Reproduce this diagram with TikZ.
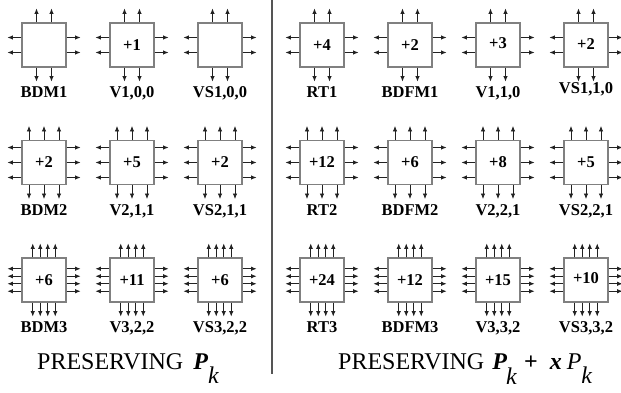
\documentclass[tikz,border=0pt]{standalone}
\usepackage{fontspec}
\setmainfont{Liberation Serif}
\usetikzlibrary{arrows.meta}
\definecolor{boxgray}{HTML}{808080}
\definecolor{pincol}{HTML}{222222}
\definecolor{divcol}{HTML}{555555}
\tikzset{
  cell/.style={draw=boxgray, line width=1.1pt, minimum width=44pt, minimum height=44pt,
    inner sep=0pt, font=\fontsize{16.5}{16.5}\selectfont\bfseries},
  lab/.style={font=\fontsize{16.5}{16.5}\selectfont\bfseries, anchor=base, inner sep=0pt},
  pin/.style={draw=pincol, line width=0.8pt, -{Latex[length=5.5pt,width=4.5pt]}},
  ttl/.style={font=\fontsize{24}{24}\selectfont, anchor=base west, inner sep=0pt},
}
\newcommand\cellpins[2]{%
  \foreach \d in {#2} {
    \draw[pin] ([xshift=\d pt]#1.north) -- ++(0,-14);
    \draw[pin] ([xshift=\d pt]#1.south) -- ++(0,14);
    \draw[pin] ([yshift=\d pt]#1.west) -- ++(-14,0);
    \draw[pin] ([yshift=\d pt]#1.east) -- ++(14,0);
  }}
\begin{document}
\begin{tikzpicture}[x=1pt,y=-1pt]
\useasboundingbox (0,0) rectangle (621,393);
% ---- left block ----
\node[cell] (bdm1) at (44,45) {};
\node[cell] (v100) at (132,45) {+1};
\node[cell] (vs100) at (220,45) {};
\node[cell] (bdm2) at (44,162.5) {+2};
\node[cell] (v211) at (132,162.5) {+5};
\node[cell] (vs211) at (220,162.5) {+2};
\node[cell] (bdm3) at (44,280) {+6};
\node[cell] (v322) at (132,280) {+11};
\node[cell] (vs322) at (220,280) {+6};
% ---- right block ----
\node[cell] (rt1) at (322,45) {+4};
\node[cell] (bdfm1) at (410,45) {+2};
\node[cell] (v110) at (498,45) {\raisebox{3pt}{+3}};
\node[cell] (vs110) at (586,45) {\raisebox{1.5pt}{+2}};
\node[cell] (rt2) at (322,162.5) {+12};
\node[cell] (bdfm2) at (410,162.5) {+6};
\node[cell] (v221) at (498,162.5) {+8};
\node[cell] (vs221) at (586,162.5) {+5};
\node[cell] (rt3) at (322,280) {+24};
\node[cell] (bdfm3) at (410,280) {+12};
\node[cell] (v332) at (498,280) {+15};
\node[cell] (vs332) at (586,280) {\raisebox{4pt}{+10}};
% ---- pins ----
\foreach \n in {bdm1,v100,vs100,rt1,bdfm1,v110,vs110} {\cellpins{\n}{-7.5,7.5}}
\foreach \n in {bdm2,v211,vs211,rt2,bdfm2,v221,vs221} {\cellpins{\n}{-15,0,15}}
\foreach \n in {bdm3,v322,vs322,rt3,bdfm3,v332,vs332} {\cellpins{\n}{-11.25,-3.75,3.75,11.25}}
% ---- labels ----
\node[lab] (lbdm1) at (44,97.5) {BDM1};
\node[lab] (lv100) at (132,97.5) {V1,0,0};
\node[lab] (lvs100) at (220,97.5) {VS1,0,0};
\node[lab] (lbdm2) at (44,215) {BDM2};
\node[lab] (lv211) at (132,215) {V2,1,1};
\node[lab] (lvs211) at (220,215) {VS2,1,1};
\node[lab] (lbdm3) at (44,332.5) {BDM3};
\node[lab] (lv322) at (132,332.5) {V3,2,2};
\node[lab] (lvs322) at (220,332.5) {VS3,2,2};
\node[lab] (lrt1) at (322,97.5) {RT1};
\node[lab] (lbdfm1) at (410,97.5) {BDFM1};
\node[lab] (lv110) at (498,97.5) {V1,1,0};
\node[lab] (lvs110) at (586,93.5) {VS1,1,0};
\node[lab] (lrt2) at (322,215) {RT2};
\node[lab] (lbdfm2) at (410,215) {BDFM2};
\node[lab] (lv221) at (498,215) {V2,2,1};
\node[lab] (lvs221) at (586,215) {VS2,2,1};
\node[lab] (lrt3) at (322,332.5) {RT3};
\node[lab] (lbdfm3) at (410,332.5) {BDFM3};
\node[lab] (lv332) at (498,332.5) {V3,3,2};
\node[lab] (lvs332) at (586,332.5) {VS3,3,2};
% ---- divider ----
\coordinate (divtop) at (272,0);
\coordinate (divbot) at (272,374);
\draw[divcol, line width=2pt] (divtop) -- (divbot);
% ---- titles ----
\node[ttl] (tleft) at (37,369) {PRESERVING\hspace{10pt}\textbf{\textit{P}}\raisebox{-14pt}{\textit{k}}};
\node[ttl] (tright) at (338,369) {PRESERVING\hspace{8pt}\textbf{\textit{P}}\kern-1pt\raisebox{-15pt}{\textit{k}}\hspace{7pt}\textbf{+}\hspace{12pt}\textbf{\textit{x}}\hspace{5pt}\textit{P}\raisebox{-14pt}{\textit{k}}};
\end{tikzpicture}
\end{document}
